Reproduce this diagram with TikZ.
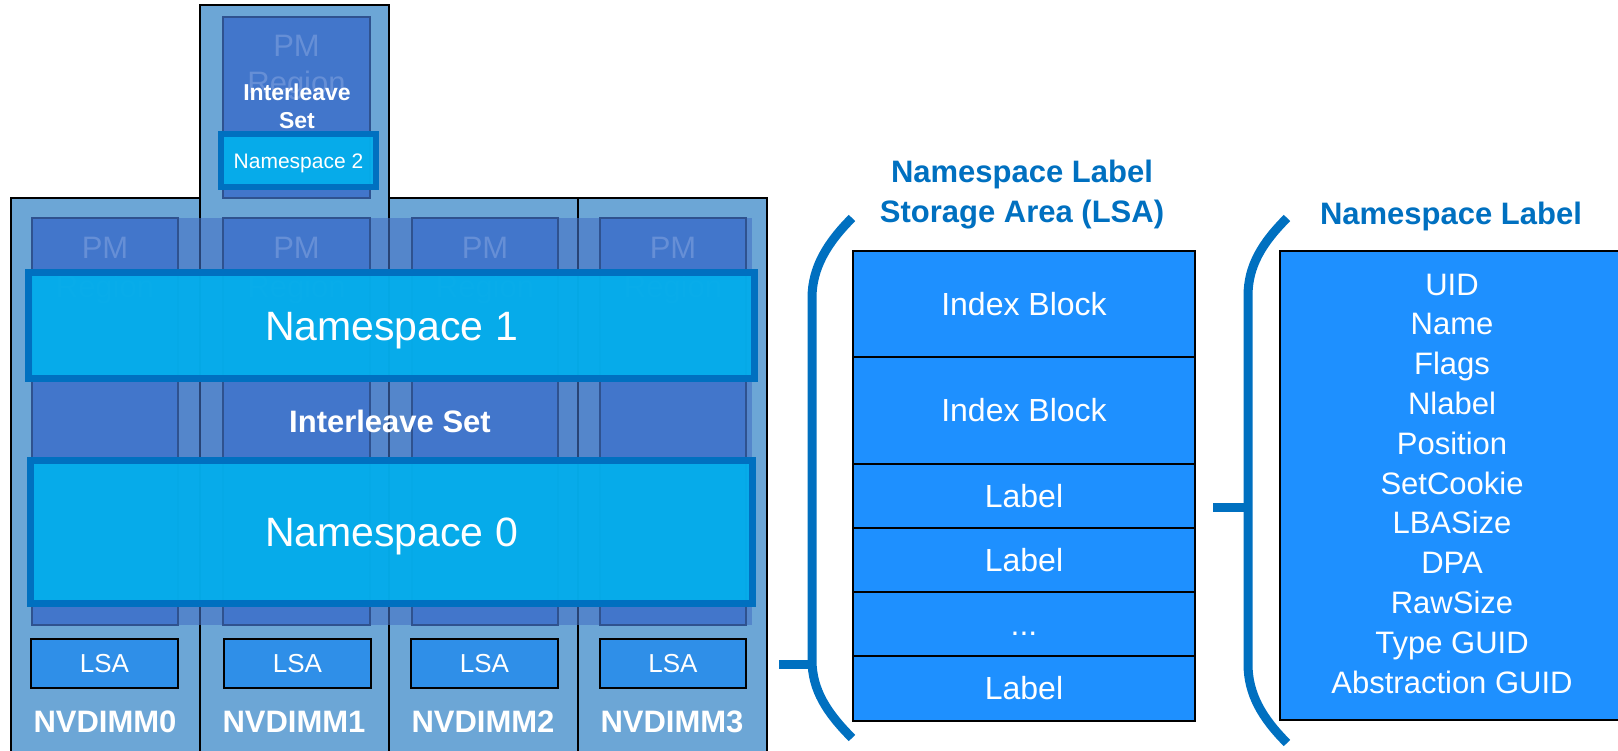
\documentclass[tikz,border=0pt]{standalone}
\usepackage{fontspec}
\setmainfont{Liberation Sans}
\definecolor{dimbg}{RGB}{108,166,214}
\definecolor{pmc}{RGB}{66,118,203}
\definecolor{pmborder}{RGB}{47,82,143}
\definecolor{bandc}{RGB}{68,114,196}
\definecolor{nsfill}{RGB}{3,174,236}
\definecolor{nsborder}{RGB}{0,112,192}
\definecolor{lsac}{RGB}{47,143,232}
\definecolor{tabc}{RGB}{30,144,255}
\definecolor{pmtext}{RGB}{102,143,214}
\newcommand\rbox[7]{% name, style, x1,y1,x2,y2, text
  \node[#2, minimum width={#5-#3}, minimum height={#6-#4}] (#1) at ({(#3+#5)/2},{(#4+#6)/2}) {#7};}
\tikzset{
  every node/.style={inner sep=0pt, outer sep=0pt},
  fz/.style={font=\fontsize{#1}{#1}\selectfont, text height=\fpeval{0.716*#1}pt, text depth=0pt},
  fzb/.style={font=\fontsize{#1}{#1}\selectfont\bfseries, text height=\fpeval{0.716*#1}pt, text depth=0pt},
  col/.style={draw=black, line width=1.5, fill=dimbg},
  bandst/.style={fill=bandc, fill opacity=0.6},
  pm/.style={draw=pmborder, line width=1.2, fill=pmc},
  pmtxt/.style={fz=31, text=pmtext},
  ns/.style={draw=nsborder, fill=nsfill, fill opacity=0.95, draw opacity=1, text opacity=1, text=white},
  lsa/.style={draw=black, line width=1.8, fill=lsac, text=white, fz=26},
  dimlab/.style={text=white, fzb=31},
  tab/.style={draw=black, line width=1.6, fill=tabc, text=white, fz=32},
  title/.style={text=nsborder, fzb=31},
  field/.style={text=white, fz=31},
  brace/.style={draw=nsborder, line width=9},
}
\begin{document}
\begin{tikzpicture}[x=1pt,y=-1pt]
\useasboundingbox (0,0) rectangle (1618,751);

% NVDIMM columns
\rbox{c0}{col}{11}{198}{200}{765}{}
\rbox{c2}{col}{389}{198}{578}{765}{}
\rbox{c3}{col}{578}{198}{767}{765}{}
\rbox{c1}{col}{200}{5}{389}{765}{}

% interleave set band
\rbox{band}{bandst}{32}{218}{752}{625}{}

% PM regions
\rbox{pmtop}{pm}{223}{17}{370}{198}{}
\rbox{pm0}{pm}{32}{218}{178}{625}{}
\rbox{pm1}{pm}{223}{218}{370}{625}{}
\rbox{pm2}{pm}{412}{218}{558}{625}{}
\rbox{pm3}{pm}{600}{218}{746}{625}{}

\node[pmtxt] (pmtt) at (296.5,45) {PM};
\node[pmtxt] (rgt) at (296.5,82) {Region};
\node[pmtxt] (pmt0) at (105,247) {PM};
\node[pmtxt] (rg0) at (105,286) {Region};
\node[pmtxt] (pmt1) at (296.5,247) {PM};
\node[pmtxt] (rg1) at (296.5,286) {Region};
\node[pmtxt] (pmt2) at (485,247) {PM};
\node[pmtxt] (rg2) at (485,286) {Region};
\node[pmtxt] (pmt3) at (673,247) {PM};
\node[pmtxt] (rg3) at (673,286) {Region};

% top interleave set
\node[text=white, fzb=23] (ilt1) at (297,92) {Interleave};
\node[text=white, fzb=23] (ilt2) at (297,120) {Set};

% namespaces
\rbox{ns2}{ns, line width=6, fz=21}{221}{134}{376}{187}{Namespace 2}
\rbox{ns1}{ns, line width=7, fz=41}{28.5}{272.5}{754.5}{378.5}{Namespace 1}
\rbox{ns0}{ns, line width=7, fz=41}{30.5}{460.5}{752.5}{603.5}{Namespace 0}

\node[text=white, fzb=31] (ilv) at (390,421) {Interleave Set};

% LSA boxes
\rbox{lsa0}{lsa}{31}{639}{178}{688}{LSA}
\rbox{lsa1}{lsa}{224}{639}{371}{688}{LSA}
\rbox{lsa2}{lsa}{411}{639}{558}{688}{LSA}
\rbox{lsa3}{lsa}{600}{639}{746}{688}{LSA}

\node[dimlab] (d0) at (105,721) {NVDIMM0};
\node[dimlab] (d1) at (294,721) {NVDIMM1};
\node[dimlab] (d2) at (483,721) {NVDIMM2};
\node[dimlab] (d3) at (672,721) {NVDIMM3};

% LSA table
\node[title] (lsatitle1) at (1022,171) {Namespace Label};
\node[title] (lsatitle2) at (1022,211) {Storage Area (LSA)};
\rbox{r1}{tab}{853}{251}{1195}{357}{Index Block}
\rbox{r2}{tab}{853}{357}{1195}{464}{Index Block}
\rbox{r3}{tab}{853}{464}{1195}{528}{Label}
\rbox{r4}{tab}{853}{528}{1195}{592}{Label}
\rbox{r5}{tab}{853}{592}{1195}{656}{...}
\rbox{r6}{tab}{853}{656}{1195}{721}{Label}

% namespace label
\node[title] (nltitle) at (1451,213) {Namespace Label};
\rbox{nl}{tab}{1280}{251}{1640}{720}{}
\foreach \t [count=\i from 0] in {UID,Name,Flags,Nlabel,Position,SetCookie,LBASize,DPA,RawSize,Type GUID,Abstraction GUID}{
  \node[field] (f\i) at (1452,{284+39.8*\i}) {\t};
}

% braces
\coordinate (b1t) at (852,218);
\coordinate (b1u) at (812,298);
\coordinate (b1l) at (812,660);
\coordinate (b1b) at (852,738);
\coordinate (b1k) at (779,664);
\coordinate (b1j) at (812,664);
\draw[brace] (b1t) .. controls (827,243) and (812,268) .. (b1u) -- (b1l) .. controls (812,690) and (827,713) .. (b1b);
\draw[brace] (b1k) -- (b1j);

\coordinate (b2t) at (1287,218);
\coordinate (b2u) at (1248,296);
\coordinate (b2l) at (1248,664);
\coordinate (b2b) at (1287,743);
\coordinate (b2k) at (1213,507);
\coordinate (b2j) at (1248,507);
\draw[brace] (b2t) .. controls (1262,243) and (1248,266) .. (b2u) -- (b2l) .. controls (1248,694) and (1262,718) .. (b2b);
\draw[brace] (b2k) -- (b2j);
\end{tikzpicture}
\end{document}
